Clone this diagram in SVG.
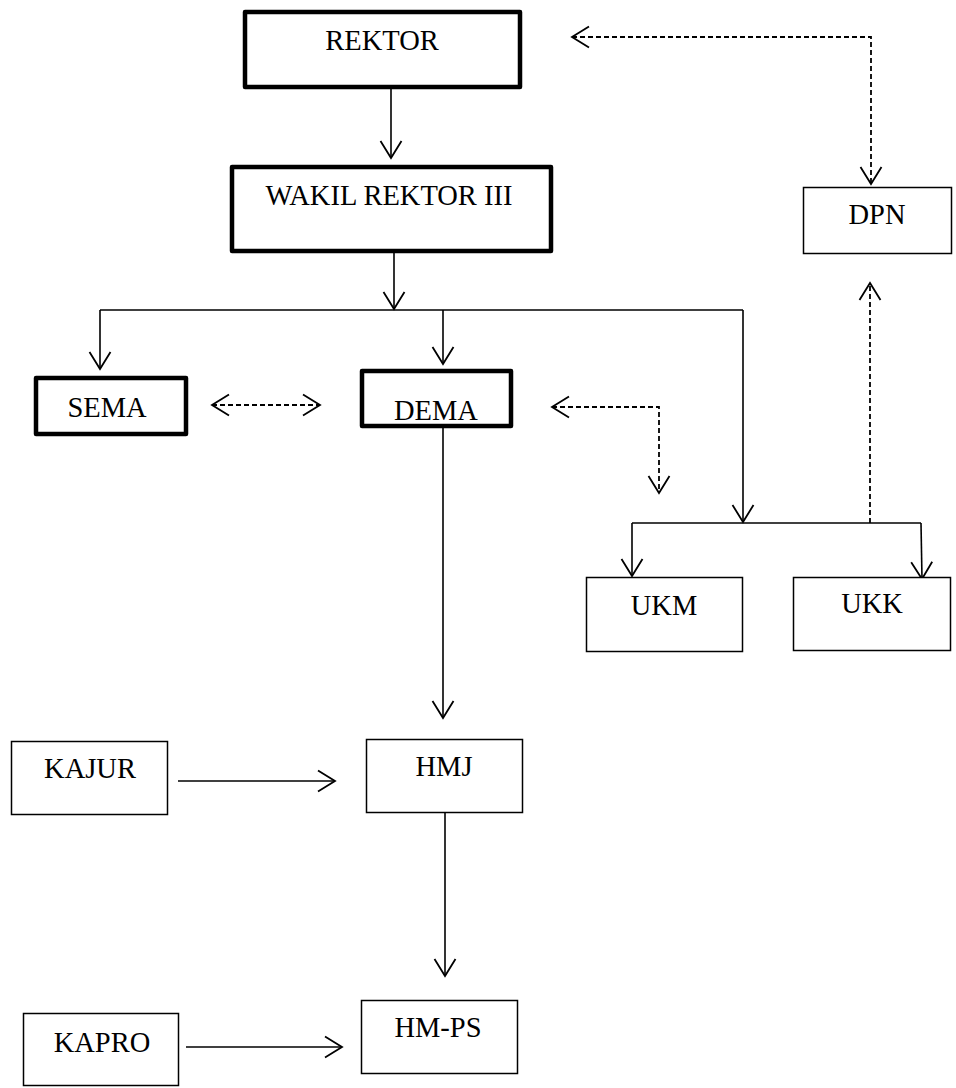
<svg xmlns="http://www.w3.org/2000/svg" width="956" height="1088" viewBox="0 0 956 1088">
<style>
.box{fill:#fff;stroke:#000;stroke-width:1.5}
.thick{fill:#fff;stroke:#000;stroke-width:4.5;stroke-linejoin:round}
.lbl{font-family:"Liberation Serif","Times New Roman",serif;font-size:28.5px;fill:#000;text-anchor:middle}
.ln{fill:none;stroke:#000;stroke-width:1.6}
.dash{fill:none;stroke:#000;stroke-width:1.8;stroke-dasharray:5 3}
</style>
<defs>
<marker id="ah" viewBox="-18 -12 20 24" refX="0" refY="0" markerWidth="20" markerHeight="24" markerUnits="userSpaceOnUse" orient="auto-start-reverse">
<path d="M-17,-10.5 L0,0 L-17,10.5" fill="none" stroke="#000" stroke-width="1.8"/>
</marker>
</defs>
<rect width="956" height="1088" fill="#fff"/>
<g id="connectors">
<path class="ln" d="M391,89 V158" marker-end="url(#ah)"/>
<path class="ln" d="M394,253 V309" marker-end="url(#ah)"/>
<path class="ln" d="M100,310 H743"/>
<path class="ln" d="M100,310 V369" marker-end="url(#ah)"/>
<path class="ln" d="M443,310 V364" marker-end="url(#ah)"/>
<path class="ln" d="M743,310 V522" marker-end="url(#ah)"/>
<path class="dash" d="M212,405 H320" marker-start="url(#ah)" marker-end="url(#ah)"/>
<path class="dash" d="M552,407 H659 V493" marker-start="url(#ah)" marker-end="url(#ah)"/>
<path class="ln" d="M632,523 H921"/>
<path class="ln" d="M632,523 V576" marker-end="url(#ah)"/>
<path class="ln" d="M921,523 L922,579" marker-end="url(#ah)"/>
<path class="dash" d="M870,523 V283" marker-end="url(#ah)"/>
<path class="dash" d="M572,37 H871 V184" marker-start="url(#ah)" marker-end="url(#ah)"/>
<path class="ln" d="M443,428 V718" marker-end="url(#ah)"/>
<path class="ln" d="M178,781 H335" marker-end="url(#ah)"/>
<path class="ln" d="M445,813 V976" marker-end="url(#ah)"/>
<path class="ln" d="M186,1047 H342" marker-end="url(#ah)"/>
</g>
<g id="rektor"><rect class="thick" x="245" y="12" width="275" height="75"/><text class="lbl" x="382" y="50">REKTOR</text></g>
<g id="wakil"><rect class="thick" x="232" y="167" width="319" height="84"/><text class="lbl" x="389" y="205">WAKIL REKTOR III</text></g>
<g id="dpn"><rect class="box" x="803.5" y="187.5" width="148" height="66"/><text class="lbl" x="877" y="224">DPN</text></g>
<g id="sema"><rect class="thick" x="36" y="378" width="150" height="56"/><text class="lbl" x="107" y="417">SEMA</text></g>
<g id="dema"><rect class="thick" x="362" y="371" width="149" height="55"/><text class="lbl" x="436" y="420">DEMA</text></g>
<g id="ukm"><rect class="box" x="586.5" y="577.5" width="156" height="74"/><text class="lbl" x="664" y="615">UKM</text></g>
<g id="ukk"><rect class="box" x="793.5" y="577.5" width="157" height="73"/><text class="lbl" x="872" y="613">UKK</text></g>
<g id="kajur"><rect class="box" x="11.5" y="741.5" width="156" height="73"/><text class="lbl" x="90" y="778">KAJUR</text></g>
<g id="hmj"><rect class="box" x="366.5" y="739.5" width="156" height="73"/><text class="lbl" x="444" y="776">HMJ</text></g>
<g id="kapro"><rect class="box" x="23.5" y="1013.5" width="155" height="72"/><text class="lbl" x="102" y="1052">KAPRO</text></g>
<g id="hmps"><rect class="box" x="361.5" y="1000.5" width="156" height="73"/><text class="lbl" x="438" y="1037">HM-PS</text></g>
</svg>
